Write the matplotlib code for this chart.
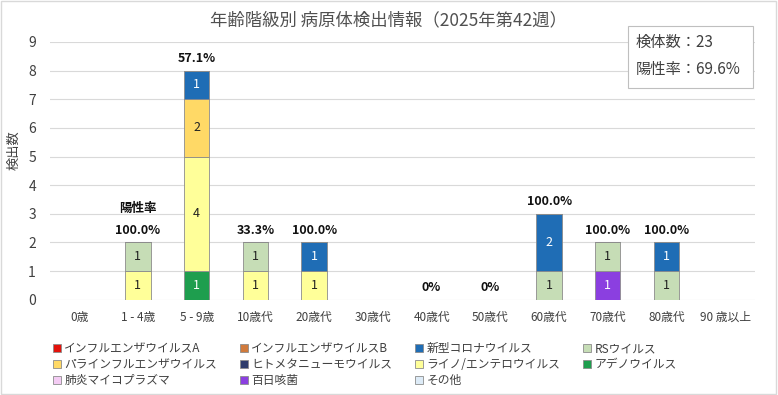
import matplotlib.pyplot as plt
import numpy as np

plt.rcParams['font.family'] = ['Noto Sans CJK JP', 'DejaVu Sans']

ages = ['0歳', '1 - 4歳', '5 - 9歳', '10歳代', '20歳代', '30歳代',
        '40歳代', '50歳代', '60歳代', '70歳代', '80歳代', '90 歳以上']

# detections per pathogen, per age group
flu_a = [0, 0, 0, 0, 0, 0, 0, 0, 0, 0, 0, 0]
flu_b = [0, 0, 0, 0, 0, 0, 0, 0, 0, 0, 0, 0]
corona = [0, 0, 1, 0, 1, 0, 0, 0, 2, 0, 1, 0]
rs = [0, 1, 0, 1, 0, 0, 0, 0, 1, 1, 1, 0]
para = [0, 0, 2, 0, 0, 0, 0, 0, 0, 0, 0, 0]
hmpv = [0, 0, 0, 0, 0, 0, 0, 0, 0, 0, 0, 0]
rhino = [0, 1, 4, 1, 1, 0, 0, 0, 0, 0, 0, 0]
adeno = [0, 0, 1, 0, 0, 0, 0, 0, 0, 0, 0, 0]
myco = [0, 0, 0, 0, 0, 0, 0, 0, 0, 0, 0, 0]
pertussis = [0, 0, 0, 0, 0, 0, 0, 0, 0, 1, 0, 0]
other = [0, 0, 0, 0, 0, 0, 0, 0, 0, 0, 0, 0]

# positive rate labels (None = no label)
rates = [None, '100.0%', '57.1%', '33.3%', '100.0%', None,
         '0%', '0%', '100.0%', '100.0%', '100.0%', None]

n_specimens = 23
pos_rate = '69.6%'

# legend order
series = [
    ('インフルエンザウイルスA', flu_a, '#E3120B', 'white'),
    ('インフルエンザウイルスB', flu_b, '#D07A3C', 'white'),
    ('新型コロナウイルス', corona, '#1F6DB5', 'white'),
    ('RSウイルス', rs, '#C6DDB6', '#222222'),
    ('パラインフルエンザウイルス', para, '#FFD966', '#222222'),
    ('ヒトメタニューモウイルス', hmpv, '#2F3C6B', 'white'),
    ('ライノ/エンテロウイルス', rhino, '#FFFF99', '#222222'),
    ('アデノウイルス', adeno, '#1E9E4E', 'white'),
    ('肺炎マイコプラズマ', myco, '#F4CCF4', '#222222'),
    ('百日咳菌', pertussis, '#8B3FE0', 'white'),
    ('その他', other, '#DDEBF7', '#222222'),
]

fig = plt.figure(figsize=(7.78, 3.95), dpi=100)
ax = fig.add_axes([0.064, 0.241, 0.906, 0.653])
ax.patch.set_visible(False)

x = np.arange(len(ages))
bottom = np.zeros(len(ages))
handles = {}
# stacked from the end of the legend list upward
for name, vals, col, tcol in reversed(series):
    vals = np.array(vals, dtype=float)
    b = ax.bar(x, vals, 0.43, bottom=bottom, color=col,
               edgecolor='#8C8C8C', linewidth=0.6, zorder=3)
    handles[name] = b
    for i, v in enumerate(vals):
        if v > 0:
            ax.text(x[i], bottom[i] + v / 2, '%d' % v, ha='center', va='center',
                    fontsize=9, color=tcol, zorder=4)
    bottom += vals

for i, r in enumerate(rates):
    if r is None:
        continue
    ax.annotate(r, (x[i], bottom[i]), xytext=(0, 4), textcoords='offset points',
                ha='center', va='bottom', fontsize=9, fontweight='bold',
                color='#111111')
ax.annotate('陽性率', (x[1], bottom[1]), xytext=(0, 20), textcoords='offset points',
            ha='center', va='bottom', fontsize=9, fontweight='bold', color='#111111')

ax.set_xlim(-0.5, len(ages) - 0.5)
ax.set_ylim(0, 9)
ax.set_yticks(range(10))
ax.set_xticks(x)
ax.set_xticklabels(ages, fontsize=8.5, color='#404040')
ax.tick_params(axis='y', labelsize=10, colors='#404040', length=0, pad=10)
ax.tick_params(axis='x', length=0, pad=8)
ax.grid(axis='y', color='#D9D9D9', linewidth=0.8, zorder=0)
for s in ax.spines.values():
    s.set_visible(False)
ax.set_ylabel('検出数', fontsize=9.5, color='#404040')
ax.yaxis.set_label_coords(-0.042, 0.58)

fig.text(0.5, 0.948, '年齢階級別 病原体検出情報（2025年第42週）', ha='center', va='center',
         fontsize=12.5, color='#505050')

box = plt.Rectangle((0.807, 0.777), 0.161, 0.157, transform=fig.transFigure,
                    facecolor='white', edgecolor='#BFBFBF', linewidth=0.8, zorder=5)
fig.add_artist(box)
fig.text(0.817, 0.893, '検体数：%d' % n_specimens, fontsize=11, color='#404040',
         va='center', zorder=6)
fig.text(0.817, 0.823, '陽性率：%s' % pos_rate, fontsize=11, color='#404040',
         va='center', zorder=6)

# legend filled row by row in 4 columns
names = [s[0] for s in series]
order = [0, 4, 8, 1, 5, 9, 2, 6, 10, 3, 7]
leg = fig.legend([handles[names[k]] for k in order], [names[k] for k in order],
                 ncol=4, loc='upper left', bbox_to_anchor=(0.057, 0.155),
                 frameon=False, fontsize=8.5, handlelength=0.7, handleheight=0.7,
                 handletextpad=0.3, columnspacing=1.9, labelspacing=0.25,
                 borderpad=0.2)
for t in leg.get_texts():
    t.set_color('#404040')

fig.add_artist(plt.Rectangle((0.001, 0.002), 0.997, 0.996, transform=fig.transFigure,
                             fill=False, edgecolor='#D9D9D9', linewidth=1))

fig.savefig('out.png', dpi=100)
